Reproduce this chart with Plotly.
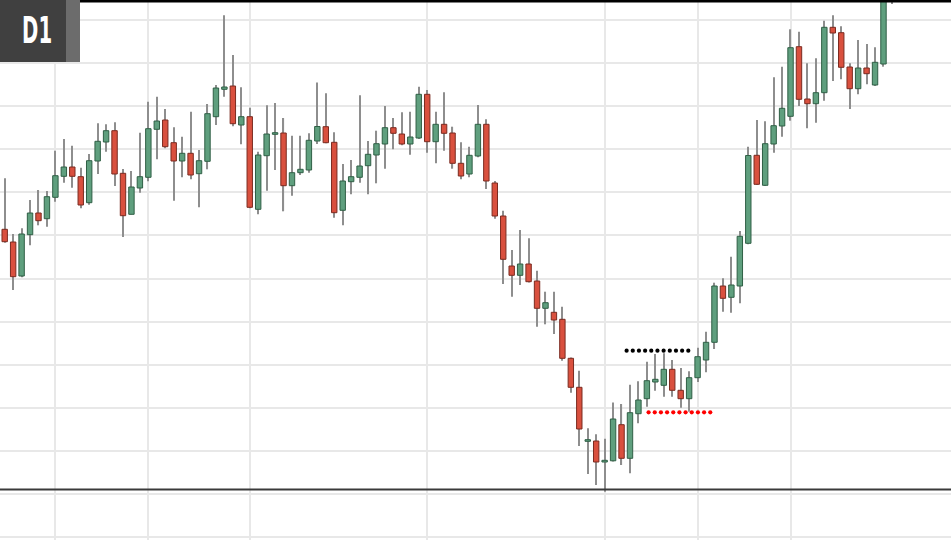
import plotly.graph_objects as go

# ---- Data (D1 candles, arbitrary price units) ----
open_ = [310.7, 298, 264, 305.3, 327, 321.3, 342.7, 363.7, 373, 363.3,
         337.3, 379, 398, 409.3, 366.7, 325.7, 352, 362.7, 410.7, 420,
         397.3, 379, 386.7, 366.3, 378.7, 423.3, 450.7, 454, 415, 423.3,
         330.7, 384.3, 405.7, 407, 354.3, 367.3, 370, 399, 413.3, 397.7,
         329.7, 358.3, 362.7, 374.3, 385, 396, 412.3, 406, 396, 402,
         445.7, 398.3, 415.7, 407, 376.7, 366, 384, 415.7, 357, 324,
         274, 264.7, 276, 259, 231.7, 227.7, 220.7, 181.7, 152.7, 98.7,
         99, 78, 79.2, 115.3, 81.7, 126.3, 141.3, 158, 154.7, 170.7,
         149.7, 141.3, 162.3, 180, 197.7, 254, 242.7, 254, 296.7, 384.7,
         354.7, 396, 414, 423.7, 493.3, 441, 436.3, 447.3, 512.7, 507.3,
         473, 451.3, 472, 455, 476, 545]
high = [361.7, 306, 311.7, 340, 350, 349, 389.3, 401, 394.3, 372.3,
        386, 416.7, 415.7, 417.7, 371, 369, 407.3, 438.3, 443.3, 431,
        412.7, 403.3, 428.3, 390, 436, 455, 524.7, 485, 452.7, 432.3,
        388.3, 434.7, 437, 422, 404.3, 404.3, 406.7, 457.5, 446.7, 407.7,
        376, 380, 444.7, 399, 409.3, 434, 422, 427.7, 428.3, 453.3,
        450, 428.3, 447.7, 413.3, 397.7, 393.3, 435, 420.7, 359, 329.3,
        290, 310, 301.7, 269.3, 248.3, 248.3, 233.3, 182.5, 169.3, 111.7,
        105.7, 101.3, 137.5, 136, 155.3, 158.7, 178.3, 186, 186.7, 180,
        172, 168.7, 192.3, 208.3, 257.3, 261.7, 283.3, 309, 393.3, 420,
        418.7, 462.7, 473.3, 510.7, 508.3, 476.7, 481.7, 519.3, 524.7, 513.7,
        476.7, 500, 496, 492.7, 555, 580]
low = [297.3, 250, 262.7, 294.7, 314.7, 313.3, 338.3, 357.3, 352.3, 331.7,
       335.3, 366, 388.3, 354, 303, 325.7, 347.3, 358.7, 380.7, 391.7,
       339.3, 362.7, 360.7, 332.7, 370.7, 415, 443.3, 413.7, 395.7, 331.7,
       325.7, 349.3, 370, 328.7, 344.3, 365, 367.3, 396, 396.7, 322.3,
       314.7, 345.7, 357.3, 345.7, 356.7, 371.3, 390.7, 394.7, 385.3, 401,
       387.3, 376.7, 389.3, 371.3, 360.7, 362.7, 382.7, 351, 321.3, 256,
       243.3, 255, 257.5, 213.3, 215.7, 206, 179.3, 147.3, 94, 66,
       55, 48.3, 78.5, 75, 66.7, 116.7, 133.3, 149.3, 143.3, 143.3,
       132.3, 128.3, 158, 167.7, 191, 228.3, 227.3, 236.7, 295.7, 355,
       354, 387.3, 403.3, 419.3, 434, 411.7, 417.3, 439.3, 459, 460.7,
       431, 445.7, 455.7, 454, 473.3, 536]
close = [298.3, 263.3, 306, 327, 319.3, 343.3, 364.3, 373, 363.7, 335,
         379.3, 398.7, 409.3, 366, 324.3, 353, 363.3, 411.3, 419, 393.3,
         379, 386.7, 365, 379.3, 426.3, 452, 453, 416.3, 423.3, 332.7,
         385, 406, 407.3, 354.3, 367.3, 370.7, 399.7, 413.5, 397.3, 327.3,
         359, 363.3, 374, 385.7, 396.3, 412.3, 406.7, 396, 403, 445.7,
         398.3, 415.7, 406.7, 376.7, 364, 384.7, 415.7, 359, 324, 280.7,
         264.7, 276, 258.3, 231.7, 237.3, 220, 181.7, 152.7, 111, 100,
         78, 79.7, 121, 81.7, 127.3, 140, 159.3, 160.7, 170.7, 149.7,
         141.3, 162.3, 183.3, 197.7, 254, 241.7, 255, 303.7, 384.5, 355.7,
         396.3, 414.3, 431.7, 492.3, 440.7, 436.3, 447.3, 512.7, 507, 472.7,
         451.3, 472, 466.3, 477.7, 548, 570]

grid_candles = [6, 17, 29, 50, 71, 82, 93]      # vertical grid positions (candle index)
resistance_level = 189.3                           # black dotted level
resistance_span = (73.6, 80.9)
support_level = 127.7                              # red dotted level
support_span = (76.2, 83.5)
price_line = 50.5                                  # dark horizontal line
timeframe_label = "D1"

# ---- Build ----
idx = list(range(len(open_)))
up = [c >= o for o, c in zip(open_, close)]
body_base = [min(o, c) for o, c in zip(open_, close)]
body_len = [max(abs(c - o), 1.6) for o, c in zip(open_, close)]
fill = ["#5f9f7e" if u else "#d9503e" for u in up]
edge = ["#2f5f45" if u else "#7a2b20" for u in up]

fig = go.Figure()
# wicks
fig.add_trace(go.Bar(
    x=idx, base=low, y=[h - l for h, l in zip(high, low)], width=0.13,
    marker=dict(color="#8e8e8e", line=dict(width=0)), hoverinfo="skip"))
# bodies
fig.add_trace(go.Bar(
    x=idx, base=body_base, y=body_len, width=0.64,
    marker=dict(color=fill, line=dict(color=edge, width=1)), hoverinfo="skip"))

def dots(span, level, color):
    n = 11
    xs = [span[0] + (span[1] - span[0]) * k / (n - 1) for k in range(n)]
    return go.Scatter(x=xs, y=[level] * n, mode="markers",
                      marker=dict(color=color, size=4.2, line=dict(width=0)),
                      hoverinfo="skip")

fig.add_trace(dots(resistance_span, resistance_level, "#000000"))
fig.add_trace(dots(support_span, support_level, "#ff0000"))

W, H = 951, 540
fig.update_layout(
    width=W, height=H, margin=dict(l=0, r=0, t=0, b=0),
    paper_bgcolor="white", plot_bgcolor="white",
    barmode="overlay", showlegend=False, hovermode=False,
    xaxis=dict(range=[-0.556, 111.99], tickmode="array", tickvals=grid_candles,
               showticklabels=False, ticks="", showgrid=True,
               gridcolor="#e8e8e8", gridwidth=1.5, zeroline=False, showline=False),
    yaxis=dict(range=[0, 540], tick0=3, dtick=43.08, showticklabels=False,
               ticks="", showgrid=True, gridcolor="#e8e8e8", gridwidth=1.5,
               zeroline=False, showline=False),
    shapes=[
        dict(type="line", xref="paper", yref="y", x0=0, x1=1,
             y0=price_line, y1=price_line, line=dict(color="#3a3a3a", width=2),
             layer="above"),
        dict(type="line", xref="paper", yref="paper", x0=0, x1=1, y0=0.998, y1=0.998,
             line=dict(color="#000000", width=3), layer="above"),
        dict(type="rect", xref="paper", yref="paper", x0=0, x1=66 / W,
             y0=1 - 62 / H, y1=1, fillcolor="#404040", line=dict(width=0), layer="above"),
        dict(type="rect", xref="paper", yref="paper", x0=66 / W, x1=80 / W,
             y0=1 - 62 / H, y1=1, fillcolor="#6c6c6c", line=dict(width=0), layer="above"),
    ],
    annotations=[dict(text=timeframe_label, xref="paper", yref="paper",
                      x=37 / W, y=1 - 30 / H, xanchor="center", yanchor="middle",
                      showarrow=False,
                      font=dict(family="DejaVu Sans Condensed, DejaVu Sans, sans-serif",
                                size=38, color="white", weight="bold"))],
)

post = """
document.body.style.margin = '0px';
document.querySelectorAll('.annotation-text').forEach(function (t) {
  t.setAttribute('textLength', '30');
  t.setAttribute('lengthAdjust', 'spacingAndGlyphs');
});
"""

fig.write_html("out.html", config={"displayModeBar": False}, post_script=post)
